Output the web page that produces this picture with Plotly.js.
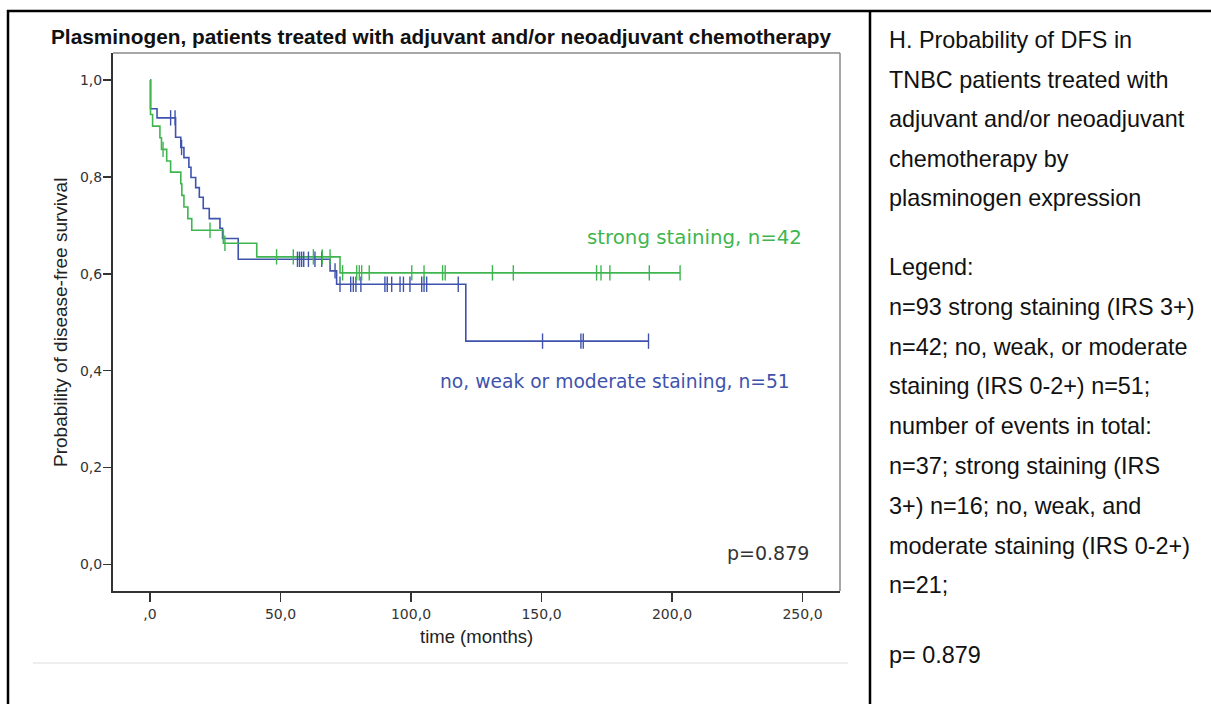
<!DOCTYPE html>
<html>
<head>
<meta charset="utf-8">
<script src="https://cdn.plot.ly/plotly-3.0.1.min.js"></script>
<style>
  html, body { margin: 0; padding: 0; background: #ffffff; }
  #chart { width: 1211px; height: 704px; }
</style>
</head>
<body>
<div id="chart"></div>
<script>
// Kaplan-Meier disease-free survival by plasminogen staining
// Strong staining (IRS 3+), n=42: event times (months) and survival after each event
const strongEventTimes = [0.2, 1.0, 3.8, 4.4, 6.4, 7.9, 11.8, 12.2, 13.0, 14.5, 16.0, 28.1, 40.9, 72.8];
const strongSurvival   = [0.929, 0.905, 0.881, 0.857, 0.833, 0.810, 0.786, 0.762, 0.738, 0.714, 0.690, 0.663, 0.635, 0.602];
const strongCensored   = [5.0, 23.0, 28.7, 48.5, 54.9, 62.6, 66.0, 69.0, 73.8, 79.2, 80.2, 81.1, 84.0,
                          100.3, 105.0, 112.1, 113.1, 131.2, 139.2, 171.1, 172.8, 176.2, 191.3, 203.1];

// No, weak or moderate staining (IRS 0-2+), n=51
const weakEventTimes = [0.2, 2.7, 9.8, 11.8, 13.0, 14.9, 15.7, 17.5, 18.9, 20.4, 22.7, 26.8, 27.8, 33.8, 69.0, 71.5, 121.0];
const weakSurvival   = [0.941, 0.922, 0.882, 0.861, 0.840, 0.820, 0.799, 0.778, 0.758, 0.735, 0.714, 0.694, 0.673, 0.630, 0.606, 0.5785, 0.461];
const weakCensored   = [7.9, 9.6, 12.1, 56.5, 57.3, 58.1, 58.9, 60.7, 63.2, 65.8, 70.9, 72.8, 76.9, 77.9, 78.9, 80.8,
                        90.0, 90.9, 92.6, 95.8, 97.1, 99.6, 104.1, 105.0, 106.0, 118.1, 150.4, 165.1, 166.0, 191.0];

// Axis ticks
const xTickValues = [0, 50, 100, 150, 200, 250];
const xTickLabels = [",0", "50,0", "100,0", "150,0", "200,0", "250,0"];
const yTickValues = [0, 0.2, 0.4, 0.6, 0.8, 1.0];
const yTickLabels = ["0,0", "0,2", "0,4", "0,6", "0,8", "1,0"];

// Caption text beside the chart
const captionLines = [
  "H. Probability of DFS in",
  "TNBC patients treated with",
  "adjuvant and/or neoadjuvant",
  "chemotherapy by",
  "plasminogen expression",
  "Legend:",
  "n=93 strong staining (IRS 3+)",
  "n=42; no, weak, or moderate",
  "staining (IRS 0-2+) n=51;",
  "number of events in total:",
  "n=37; strong staining (IRS",
  "3+) n=16; no, weak, and",
  "moderate staining (IRS 0-2+)",
  "n=21;",
  "p= 0.879"
];

const GREEN = "#3fb550";
const BLUE = "#3f53ad";

// Step path: start at 1.0, drop at each event, run flat to last follow-up
function stepPath(times, surv, lastTime) {
  const x = [0].concat(times).concat([lastTime]);
  const y = [1].concat(surv).concat([surv[surv.length - 1]]);
  return { x, y };
}
function survivalAt(times, surv, t) {
  let s = 1;
  for (let i = 0; i < times.length; i++) { if (times[i] <= t) s = surv[i]; }
  return s;
}

const strongPath = stepPath(strongEventTimes, strongSurvival, strongCensored[strongCensored.length - 1]);
const weakPath = stepPath(weakEventTimes, weakSurvival, weakCensored[weakCensored.length - 1]);

function curve(path, color) {
  return { x: path.x, y: path.y, type: "scatter", mode: "lines",
           line: { shape: "hv", color: color, width: 1.6 }, hoverinfo: "skip", showlegend: false };
}
function ticks(times, evT, evS, color) {
  return { x: times, y: times.map(t => survivalAt(evT, evS, t)), type: "scatter", mode: "markers",
           marker: { symbol: "line-ns", size: 11, color: color, line: { color: color, width: 1.4 } },
           hoverinfo: "skip", showlegend: false };
}

const traces = [
  curve(weakPath, BLUE),
  curve(strongPath, GREEN),
  ticks(weakCensored, weakEventTimes, weakSurvival, BLUE),
  ticks(strongCensored, strongEventTimes, strongSurvival, GREEN)
];

// Plot frame in page pixels
const W = 1211, H = 704;
const PL = 113, PR = 840, PT = 53, PB = 591;
const px = v => (v - PL) / (PR - PL);
const py = v => (PB - v) / (PB - PT);

const annotations = [
  { text: "strong staining, n=42", x: px(585), y: py(237), xanchor: "left", yanchor: "middle",
    font: { family: "DejaVu Sans", size: 19.8, color: GREEN } },
  { text: "no, weak or moderate staining, n=51", x: px(438), y: py(381), xanchor: "left", yanchor: "middle",
    font: { family: "DejaVu Sans", size: 18.7, color: BLUE } },
  { text: "p=0.879", x: px(811), y: py(553), xanchor: "right", yanchor: "middle",
    font: { family: "DejaVu Sans", size: 19, color: "#333333" } },
  { text: "Probability of disease-free survival", x: px(60), y: py(323), textangle: -90,
    xanchor: "center", yanchor: "middle", font: { family: "Liberation Sans", size: 19, color: "#222222" } },
  { text: "time (months)", x: px(476), y: py(636), xanchor: "center", yanchor: "middle",
    font: { family: "Liberation Sans", size: 18.5, color: "#222222" } }
];

// Caption lines: five-line paragraph, legend paragraph, p-value
const captionY = [40, 79.6, 119.2, 158.8, 198.4, 267, 306.8, 346.6, 386.4, 426.2, 466, 505.8, 545.6, 585.4, 655];
captionLines.forEach((line, i) => {
  annotations.push({ text: line, x: px(887), y: py(captionY[i]), xanchor: "left", yanchor: "middle",
    font: { family: "Liberation Sans", size: 23.4, color: "#111111" } });
});
annotations.forEach(a => { a.xref = "paper"; a.yref = "paper"; a.showarrow = false; });

const lineShape = (x0, y0, x1, y1, color, width) => ({
  type: "line", xref: "paper", yref: "paper", x0: px(x0), y0: py(y0), x1: px(x1), y1: py(y1),
  line: { color: color, width: width }
});

const shapes = [
  // frame top and right
  lineShape(PL, PT, PR, PT, "#8a8a8a", 1.5),
  lineShape(PR, PT, PR, PB, "#8a8a8a", 1.5),
  // separator under the chart
  lineShape(33, 663, 848, 663, "#dddddd", 1),
  // table borders
  lineShape(7, 11, W, 11, "#000000", 2.5),
  lineShape(8, 10, 8, H, "#000000", 2.5),
  lineShape(870, 10, 870, H, "#000000", 2.5)
];

const layout = {
  width: W, height: H,
  margin: { l: PL, r: W - PR, t: PT, b: H - PB, pad: 0 },
  paper_bgcolor: "#ffffff", plot_bgcolor: "#ffffff",
  title: { text: "<b>Plasminogen, patients treated with adjuvant and/or neoadjuvant chemotherapy</b>",
           x: 441 / W, xanchor: "center", y: 1 - 37 / H, yanchor: "middle",
           font: { family: "Liberation Sans", size: 20.8, color: "#111111" } },
  xaxis: { range: [(PL - 150) / 2.61, (PR - 150) / 2.61], tickvals: xTickValues, ticktext: xTickLabels,
           showgrid: false, zeroline: false, showline: true, linecolor: "#333333", linewidth: 2,
           ticks: "outside", ticklen: 9, tickwidth: 1.5, tickcolor: "#333333",
           tickfont: { family: "DejaVu Sans", size: 14, color: "#333333" }, fixedrange: true },
  yaxis: { range: [-0.055, 1.056], tickvals: yTickValues, ticktext: yTickLabels,
           showgrid: false, zeroline: false, showline: true, linecolor: "#333333", linewidth: 2,
           ticks: "outside", ticklen: 8, tickwidth: 1.5, tickcolor: "#333333", ticklabelstandoff: -2,
           tickfont: { family: "DejaVu Sans", size: 14, color: "#333333" }, fixedrange: true },
  annotations: annotations,
  shapes: shapes
};

Plotly.newPlot("chart", traces, layout, { displayModeBar: false, staticPlot: true });
</script>
</body>
</html>
